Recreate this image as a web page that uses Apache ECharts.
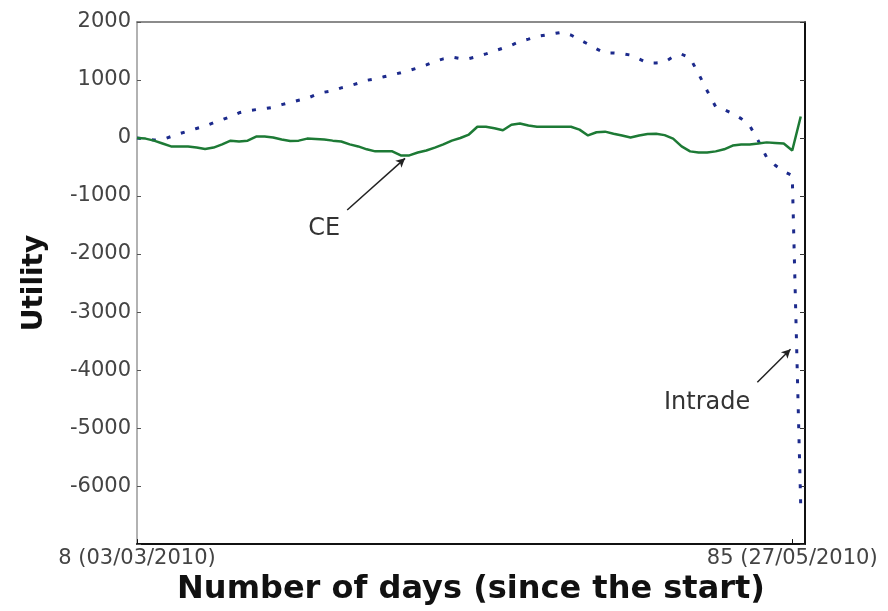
<!DOCTYPE html>
<html>
<head>
<meta charset="utf-8">
<script src="https://cdn.jsdelivr.net/npm/echarts@6/dist/echarts.min.js"></script>
<style>
  html, body { margin: 0; padding: 0; background: #fff; }
  #chart { width: 888px; height: 611px; }
</style>
</head>
<body>
<div id="chart"></div>
<script>
// Day number since the start of the study (day 8 .. day 86)
const days = [8, 9, 10, 11, 12, 13, 14, 15, 16, 17, 18, 19, 20, 21, 22, 23, 24, 25, 26, 27,
  28, 29, 30, 31, 32, 33, 34, 35, 36, 37, 38, 39, 40, 41, 42, 43, 44, 45, 46, 47,
  48, 49, 50, 51, 52, 53, 54, 55, 56, 57, 58, 59, 60, 61, 62, 63, 64, 65, 66, 67,
  68, 69, 70, 71, 72, 73, 74, 75, 76, 77, 78, 79, 80, 81, 82, 83, 84, 85, 86];

// Cumulative utility of the CE strategy
const ceUtility = [0, -10, -45, -95, -145, -145, -145, -165, -190, -165, -110, -45, -60, -45, 25, 25, 10, -25, -50, -45,
  -10, -15, -25, -45, -60, -110, -145, -195, -230, -230, -230, -300, -300, -250, -215, -165, -110, -45, 0, 60,
  195, 195, 170, 135, 230, 250, 215, 195, 195, 195, 195, 195, 145, 45, 100, 110, 75, 45, 10, 45,
  70, 75, 50, -10, -145, -230, -250, -250, -230, -195, -130, -110, -110, -95, -75, -85, -95, -215, 370];

// Cumulative utility of the Intrade strategy
const intradeUtility = [0, -20, -35, -25, 25, 75, 120, 165, 205, 265, 315, 370, 435, 470, 490, 505, 530, 575, 610, 650,
  685, 745, 790, 815, 865, 900, 945, 995, 1020, 1055, 1090, 1125, 1165, 1210, 1260, 1320, 1365, 1395, 1370, 1370,
  1405, 1450, 1500, 1550, 1600, 1665, 1705, 1750, 1775, 1800, 1825, 1775, 1695, 1620, 1535, 1465, 1465, 1455, 1430, 1365,
  1295, 1295, 1310, 1400, 1445, 1380, 1105, 815, 540, 490, 420, 335, 215, -45, -335, -470, -575, -645, -6350];

// Labelled days on the horizontal axis
const xTickDays = [8, 85];
const xTickLabels = ['8 (03/03/2010)', '85 (27/05/2010)'];

// Callouts: text position, arrow start and arrow tip, all in (day, utility)
const ceCallout = { text: 'CE', at: [30.0, -1560], from: [32.7, -1240], to: [39.5, -350] };
const intradeCallout = { text: 'Intrade', at: [75.0, -4560], from: [80.9, -4210], to: [84.8, -3640] };

const pair = (vals) => days.map((d, i) => [d, vals[i]]);

const tickFont = { fontFamily: 'DejaVu Sans', fontSize: 21, color: '#444' };
const calloutLabel = { show: true, position: 'inside', fontFamily: 'DejaVu Sans', fontSize: 24, color: '#333' };
const arrowStyle = { color: '#222', width: 1.5, type: 'solid' };

function callout(c) {
  return {
    markLine: {
      silent: true,
      symbol: ['none', 'arrow'],
      symbolSize: [7, 9],
      label: { show: false },
      lineStyle: arrowStyle,
      data: [[{ coord: c.from }, { coord: c.to }]]
    },
    markPoint: {
      silent: true,
      symbol: 'circle',
      symbolSize: 1,
      itemStyle: { color: 'rgba(0,0,0,0)' },
      label: Object.assign({}, calloutLabel, { formatter: c.text }),
      data: [{ coord: c.at }]
    }
  };
}

const chart = echarts.init(document.getElementById('chart'), null, { renderer: 'canvas' });
chart.setOption({
  animation: false,
  backgroundColor: '#fff',
  grid: { left: 137, right: 83, top: 22, bottom: 64 },
  xAxis: [{
    type: 'value', position: 'bottom', min: 8, max: 86.5,
    name: 'Number of days (since the start)', nameLocation: 'middle', nameGap: 26,
    nameTextStyle: { fontFamily: 'DejaVu Sans', fontWeight: 'bold', fontSize: 32, color: '#111' },
    axisLine: { onZero: false, lineStyle: { color: '#111', width: 2 } },
    axisTick: { inside: true, length: 5, customValues: xTickDays, lineStyle: { color: '#111' } },
    axisLabel: Object.assign({}, tickFont, {
      margin: 4, customValues: xTickDays,
      formatter: (v) => xTickLabels[xTickDays.indexOf(v)] || ''
    }),
    splitLine: { show: false }
  }, {
    type: 'value', position: 'top', min: 8, max: 86.5,
    axisLine: { onZero: false, lineStyle: { color: '#666', width: 1.5 } },
    axisTick: { show: false }, axisLabel: { show: false }, splitLine: { show: false }
  }],
  yAxis: [{
    type: 'value', position: 'left', min: -7000, max: 2000, interval: 1000,
    name: 'Utility', nameLocation: 'middle', nameGap: 88,
    nameTextStyle: { fontFamily: 'DejaVu Sans', fontWeight: 'bold', fontSize: 28, color: '#111' },
    axisLine: { show: true, onZero: false, lineStyle: { color: '#999', width: 1.5 } },
    axisTick: { show: true, inside: true, length: 4, lineStyle: { color: '#555' } },
    axisLabel: Object.assign({}, tickFont, { margin: 6, formatter: (v) => v === -7000 ? '' : String(v) }),
    splitLine: { show: false }
  }, {
    type: 'value', position: 'right', min: -7000, max: 2000, interval: 1000,
    axisLine: { show: true, onZero: false, lineStyle: { color: '#111', width: 2 } },
    axisTick: { show: true, inside: true, length: 5, lineStyle: { color: '#333' } },
    axisLabel: { show: false }, splitLine: { show: false }
  }],
  series: [
    Object.assign({
      name: 'Intrade', type: 'line', data: pair(intradeUtility),
      showSymbol: false, smooth: false,
      lineStyle: { color: '#1c2a8c', width: 3, type: [4, 11], cap: 'butt' },
      itemStyle: { color: '#1c2a8c' }, z: 2
    }, callout(intradeCallout)),
    Object.assign({
      name: 'CE', type: 'line', data: pair(ceUtility),
      showSymbol: false, smooth: false,
      lineStyle: { color: '#1d7a35', width: 2.5 },
      itemStyle: { color: '#1d7a35' }, z: 3
    }, callout(ceCallout))
  ]
});
</script>
</body>
</html>
